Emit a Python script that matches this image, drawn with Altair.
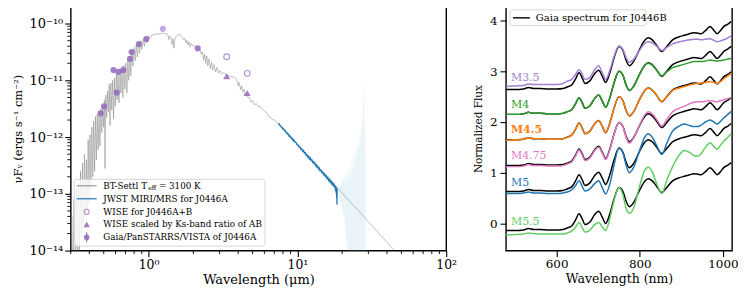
import altair as alt
import pandas as pd

FONT = "DejaVu Serif"

# ================= Left panel: SED of J0446A =================
# BT-Settl model (wavelength in micron, nuFnu in erg/s/cm2)
model_lam = [
    0.300, 0.305, 0.310, 0.316, 0.321, 0.327, 0.332, 0.338, 0.343, 0.349,
    0.354, 0.360, 0.365, 0.371, 0.376, 0.382, 0.387, 0.393, 0.398, 0.404,
    0.410, 0.416, 0.422, 0.428, 0.434, 0.440, 0.446, 0.452, 0.458, 0.465,
    0.471, 0.478, 0.485, 0.492, 0.499, 0.505, 0.510, 0.516, 0.523, 0.530,
    0.537, 0.544, 0.551, 0.558, 0.566, 0.574, 0.582, 0.590, 0.598, 0.607,
    0.615, 0.624, 0.633, 0.643, 0.652, 0.662, 0.672, 0.682, 0.693, 0.704,
    0.715, 0.726, 0.737, 0.749, 0.760, 0.772, 0.785, 0.798, 0.812, 0.826,
    0.840, 0.855, 0.870, 0.886, 0.902, 0.920, 0.938, 0.957, 0.976, 0.996,
    1.02, 1.05, 1.09, 1.13, 1.17, 1.21, 1.25, 1.29, 1.32, 1.35,
    1.37, 1.39, 1.42, 1.44, 1.46, 1.48, 1.51, 1.55, 1.60, 1.64,
    1.68, 1.72, 1.75, 1.78, 1.81, 1.84, 1.87, 1.90, 1.94, 1.98,
    2.03, 2.09, 2.15, 2.21, 2.26, 2.30, 2.34, 2.38, 2.42, 2.46,
    2.50, 2.55, 2.60, 2.65, 2.70, 2.76, 2.82, 2.88, 2.95, 3.02,
    3.10, 3.20, 3.30, 3.42, 3.55, 3.70, 3.82, 3.92, 4.00, 4.07,
    4.15, 4.22, 4.30, 4.38, 4.46, 4.55, 4.65, 4.78, 4.90, 5.02,
    5.15, 5.30, 5.45, 5.60, 5.80, 6.00, 6.20, 6.40, 6.60, 6.80,
    7.00, 7.20, 7.60, 8.00, 8.50, 9.00, 9.50, 10.0, 11.0, 12.0,
    13.0, 14.0, 15.0, 16.0, 17.0, 18.0, 19.0, 20.0, 22.0, 24.0,
    26.0, 28.0, 30.0, 33.0, 36.0, 40.0, 44.0, 48.0,
]
model_flux = [
    3e-15, 4e-14, 3e-15, 8e-14, 4e-15, 1.2e-13, 5e-15, 1.5e-13, 8e-15, 2.5e-13,
    2e-14, 3.5e-13, 3e-14, 5e-13, 4e-14, 4e-13, 5e-14, 9e-13, 7e-14, 1.1e-12,
    1.2e-13, 1.5e-12, 2e-13, 1.9e-12, 2.5e-13, 2.3e-12, 4e-13, 2.6e-12, 6e-13, 2.9e-12,
    7e-13, 3.2e-12, 1.2e-12, 3.6e-12, 1.5e-12, 4.5e-12, 2.8e-13, 5.5e-12, 2.2e-12, 6.5e-12,
    2.8e-12, 8.5e-12, 1.6e-12, 9e-12, 3e-12, 1e-11, 2.1e-12, 1.1e-11, 3.5e-12, 1.3e-11,
    4.5e-12, 1.4e-11, 4e-12, 1.6e-11, 6e-12, 1.75e-11, 5e-12, 1.85e-11, 7e-12, 2.0e-11,
    6e-12, 2.3e-11, 1e-11, 2.7e-11, 1.2e-11, 3.4e-11, 1.8e-11, 3.8e-11, 2.2e-11, 4.3e-11,
    2.6e-11, 4.8e-11, 3.0e-11, 5.0e-11, 3.5e-11, 5.3e-11, 4.0e-11, 5.7e-11, 4.6e-11, 6.0e-11,
    5.5e-11, 6.3e-11, 6.4e-11, 6.6e-11, 6.5e-11, 6.7e-11, 6.8e-11, 6.6e-11, 6.7e-11, 6.2e-11,
    5.2e-11, 6.1e-11, 5.6e-11, 4.3e-11, 5.4e-11, 3.7e-11, 5.6e-11, 6.2e-11, 6.5e-11, 6.3e-11,
    5.8e-11, 5.2e-11, 5.5e-11, 4.6e-11, 5.1e-11, 4.2e-11, 4.8e-11, 3.9e-11, 4.5e-11, 4.1e-11,
    4.0e-11, 3.8e-11, 3.7e-11, 3.5e-11, 2.9e-11, 3.2e-11, 2.3e-11, 2.9e-11, 2.0e-11, 2.7e-11,
    1.8e-11, 2.4e-11, 1.6e-11, 2.1e-11, 1.5e-11, 1.9e-11, 1.4e-11, 1.7e-11, 1.35e-11, 1.5e-11,
    1.3e-11, 1.37e-11, 1.25e-11, 1.22e-11, 1.18e-11, 1.15e-11, 1.12e-11, 1.0e-11, 8.0e-12, 9.2e-12,
    6.8e-12, 8.0e-12, 6.2e-12, 7.0e-12, 5.4e-12, 6.0e-12, 5.0e-12, 5.0e-12, 4.1e-12, 4.4e-12,
    3.7e-12, 3.9e-12, 3.4e-12, 3.5e-12, 3.1e-12, 2.9e-12, 2.7e-12, 2.35e-12, 2.25e-12, 2.05e-12,
    2.0e-12, 1.85e-12, 1.65e-12, 1.43e-12, 1.2e-12, 1.02e-12, 8.7e-13, 7.5e-13, 5.7e-13, 4.45e-13,
    3.55e-13, 2.87e-13, 2.35e-13, 1.96e-13, 1.64e-13, 1.39e-13, 1.19e-13, 1.03e-13, 7.8e-14, 6.1e-14,
    4.9e-14, 3.95e-14, 3.2e-14, 2.45e-14, 1.9e-14, 1.4e-14, 1.07e-14, 8.4e-15,
]

# JWST MIRI/MRS spectrum of J0446A
jwst_lam = [
    7.5, 7.6, 7.7, 7.8, 7.9, 8.0, 8.1, 8.2, 8.3, 8.4, 8.5, 8.6, 8.7, 8.8, 8.9, 9.0,
    9.1, 9.2, 9.3, 9.4, 9.5, 9.65, 9.8, 9.95, 10.1, 10.25, 10.4, 10.55, 10.7, 10.85,
    11.0, 11.15, 11.3, 11.45, 11.6, 11.75, 11.9, 12.05, 12.2, 12.35, 12.5, 12.65,
    12.8, 12.95, 13.1, 13.25, 13.4, 13.55, 13.7, 13.85, 14.0, 14.2, 14.4, 14.6,
    14.8, 15.0, 15.2, 15.4, 15.6, 15.8, 16.0, 16.2, 16.4, 16.6, 16.8, 17.0, 17.2,
    17.4, 17.6, 17.8, 17.9, 18.0, 18.1, 18.2, 18.3, 18.35, 18.4, 18.45, 18.5,
]
jwst_flux = [
    1.78e-12, 1.62e-12, 1.60e-12, 1.50e-12, 1.49e-12, 1.38e-12, 1.39e-12, 1.29e-12,
    1.30e-12, 1.20e-12, 1.21e-12, 1.12e-12, 1.13e-12, 1.04e-12, 1.06e-12, 9.8e-13,
    9.9e-13, 9.2e-13, 9.4e-13, 8.6e-13, 8.8e-13, 8.1e-13, 8.0e-13, 7.3e-13, 7.3e-13,
    6.7e-13, 6.8e-13, 6.1e-13, 6.2e-13, 5.6e-13, 5.8e-13, 5.2e-13, 5.3e-13, 4.8e-13,
    4.9e-13, 4.4e-13, 4.6e-13, 4.1e-13, 4.3e-13, 3.9e-13, 4.0e-13, 3.6e-13, 3.7e-13,
    3.4e-13, 3.5e-13, 3.15e-13, 3.25e-13, 2.95e-13, 3.05e-13, 2.75e-13, 2.85e-13,
    2.55e-13, 2.62e-13, 2.35e-13, 2.45e-13, 2.18e-13, 2.26e-13, 2.02e-13, 2.1e-13,
    1.86e-13, 1.95e-13, 1.72e-13, 1.80e-13, 1.6e-13, 1.7e-13, 1.5e-13, 1.58e-13,
    1.4e-13, 1.48e-13, 1.3e-13, 1.42e-13, 1.15e-13, 1.38e-13, 1.05e-13, 1.3e-13,
    8.5e-14, 1.25e-13, 6.5e-14, 1.2e-13,
]

# noisy long-wavelength channel (shown faint)
band_lam = [19.0, 19.6, 20.2, 20.8, 21.2, 21.6, 22.0, 22.4, 22.8, 23.2, 23.6, 24.0,
            24.4, 24.8, 25.2, 25.6, 26.0, 26.4, 26.8, 27.2, 27.5, 27.8, 28.1, 28.4, 28.7]
band_lo = [9e-14, 7e-14, 5e-14, 3.5e-14, 2e-14, 1.2e-14, 8e-15, 5e-15, 5e-15, 5e-15, 5e-15, 5e-15,
           5e-15, 5e-15, 5e-15, 5e-15, 5e-15, 5e-15, 5e-15, 5e-15, 5e-15, 5e-15, 5e-15, 5e-15, 5e-15]
band_hi = [1.3e-13, 1.5e-13, 1.7e-13, 2.2e-13, 1.4e-13, 2.8e-13, 1.5e-13, 3.5e-13, 1.8e-13, 4.5e-13, 2.2e-13, 6e-13,
           2.8e-13, 8e-13, 4e-13, 1.1e-12, 5e-13, 1.6e-12, 7e-13, 2.5e-12, 1.2e-12, 1.1e-11, 3e-12, 1.2e-12, 5e-13]

# photometry
phot_lam = [0.477, 0.502, 0.581, 0.611, 0.627, 0.677, 0.750, 0.769, 0.861, 0.966, 2.14]
phot_flux = [2.64e-12, 3.5e-12, 1.52e-11, 6.1e-12, 1.42e-11, 1.52e-11, 2.4e-11, 3.16e-11, 4.36e-11, 5.34e-11, 3.67e-11]
j_lam = [1.247]
j_flux = [8.1e-11]
wise_lam = [3.35, 4.60]
wise_ab_flux = [2.61e-11, 1.33e-11]
wise_scaled_flux = [1.18e-11, 6.0e-12]

# axis ticks
x_tick_vals = [1, 10, 100]
x_tick_labels = ["10⁰", "10¹", "10²"]
y_tick_vals = [1e-14, 1e-13, 1e-12, 1e-11, 1e-10]
y_tick_labels = ["10⁻¹⁴", "10⁻¹³", "10⁻¹²", "10⁻¹¹", "10⁻¹⁰"]
minor_mult = [2, 3, 4, 5, 6, 7, 8, 9]
x_minor_decades = [0.1, 1, 10]
y_minor_decades = [1e-14, 1e-13, 1e-12, 1e-11]

# ================= Right panel: Gaia spectra =================
spec_lam = [478, 500, 520, 532, 545, 560, 580, 600, 615, 625,
            636, 645, 654, 662, 668, 680, 692, 701, 710, 718,
            728, 738, 750, 760, 767, 775, 785, 800, 812, 820,
            830, 840, 853, 865, 879, 895, 907, 920, 930, 940,
            948, 958, 969, 978, 986, 995, 1002, 1012, 1020]
gaia_b = [0.00, 0.00, 0.01, 0.04, 0.02, 0.02, 0.01, 0.01, 0.02, 0.05,
          0.09, 0.20, 0.33, 0.22, 0.12, 0.17, 0.32, 0.38, 0.26, 0.14,
          0.33, 0.62, 0.85, 0.76, 0.58, 0.47, 0.55, 0.80, 0.97, 1.02,
          0.98, 0.88, 0.75, 0.85, 0.98, 1.04, 1.07, 1.10, 1.12, 1.11,
          1.10, 1.16, 1.24, 1.17, 1.10, 1.17, 1.24, 1.29, 1.34]
gaia_offsets = [2.64, 2.15, 1.65, 1.14, 0.63, -0.14]
t_m35 = [2.70, 2.71, 2.72, 2.75, 2.74, 2.74, 2.74, 2.74, 2.76, 2.80,
         2.84, 2.93, 3.03, 2.93, 2.84, 2.88, 3.04, 3.11, 2.97, 2.84,
         3.02, 3.29, 3.50, 3.42, 3.27, 3.18, 3.23, 3.42, 3.55, 3.58,
         3.56, 3.50, 3.41, 3.47, 3.54, 3.58, 3.60, 3.62, 3.63, 3.63,
         3.62, 3.63, 3.64, 3.61, 3.58, 3.60, 3.62, 3.66, 3.70]
t_m4 = [2.15, 2.15, 2.16, 2.19, 2.17, 2.17, 2.16, 2.16, 2.17, 2.20,
        2.24, 2.35, 2.48, 2.37, 2.27, 2.32, 2.47, 2.53, 2.41, 2.29,
        2.48, 2.77, 3.00, 2.91, 2.73, 2.62, 2.70, 2.95, 3.12, 3.16,
        3.12, 3.03, 2.91, 2.99, 3.07, 3.11, 3.14, 3.17, 3.19, 3.19,
        3.19, 3.20, 3.22, 3.21, 3.20, 3.21, 3.22, 3.24, 3.25]
t_m45 = [1.64, 1.65, 1.66, 1.69, 1.67, 1.67, 1.66, 1.66, 1.67, 1.70,
         1.74, 1.85, 1.98, 1.87, 1.77, 1.82, 1.97, 2.03, 1.91, 1.79,
         1.98, 2.27, 2.50, 2.41, 2.23, 2.12, 2.20, 2.45, 2.62, 2.67,
         2.63, 2.53, 2.40, 2.50, 2.62, 2.67, 2.70, 2.73, 2.75, 2.76,
         2.77, 2.78, 2.80, 2.78, 2.76, 2.80, 2.85, 2.91, 2.96]
t_m475 = [1.12, 1.12, 1.13, 1.16, 1.14, 1.14, 1.13, 1.13, 1.14, 1.17,
          1.21, 1.32, 1.45, 1.34, 1.24, 1.29, 1.44, 1.50, 1.38, 1.26,
          1.45, 1.75, 1.99, 1.89, 1.70, 1.58, 1.68, 1.95, 2.14, 2.20,
          2.16, 2.06, 1.92, 2.05, 2.20, 2.27, 2.31, 2.36, 2.39, 2.40,
          2.40, 2.41, 2.42, 2.41, 2.40, 2.42, 2.44, 2.46, 2.48]
t_m5 = [0.59, 0.59, 0.60, 0.62, 0.60, 0.60, 0.59, 0.59, 0.60, 0.62,
        0.66, 0.74, 0.84, 0.72, 0.64, 0.68, 0.79, 0.84, 0.70, 0.58,
        0.78, 1.15, 1.49, 1.38, 1.15, 1.00, 1.10, 1.45, 1.70, 1.77,
        1.70, 1.55, 1.36, 1.58, 1.82, 1.92, 1.96, 1.93, 1.91, 1.91,
        1.94, 2.00, 2.04, 2.00, 1.96, 2.02, 2.08, 2.15, 2.21]
t_m55 = [-0.23, -0.22, -0.21, -0.19, -0.20, -0.21, -0.21, -0.21, -0.21, -0.19,
         -0.15, -0.08, 0.02, -0.09, -0.17, -0.13, -0.02, 0.02, -0.07, -0.14,
         0.10, 0.45, 0.71, 0.55, 0.30, 0.20, 0.30, 0.75, 1.05, 1.11,
         1.02, 0.80, 0.59, 0.85, 1.12, 1.35, 1.44, 1.40, 1.34, 1.33,
         1.38, 1.50, 1.59, 1.52, 1.46, 1.55, 1.62, 1.70, 1.77]
templates = [t_m35, t_m4, t_m45, t_m475, t_m5, t_m55]
spt_names = ["M3.5", "M4", "M4.5", "M4.75", "M5", "M5.5"]
spt_colors = ["#a27fd4", "#2ca02c", "#ff7f0e", "#e377c2", "#1f77b4", "#62cd62"]
label_lam = [490, 490, 490, 490, 490, 490]
label_val = [2.87, 2.33, 1.84, 1.33, 0.79, 0.03]
label_bold = [False, False, True, False, False, False]

# ---------------------------------------------------------------
assert len(model_lam) == len(model_flux)
assert len(jwst_lam) == len(jwst_flux)
assert len(band_lam) == len(band_lo) == len(band_hi)
for t in templates + [gaia_b]:
    assert len(t) == len(spec_lam)


def label_expr(vals, labels):
    expr = "''"
    for v, l in zip(vals, labels):
        expr = f"abs(datum.value / {v!r} - 1) < 0.01 ? '{l}' : ({expr})"
    return expr


LW, LH = 377, 245
RW, RH = 227, 245

xs = alt.Scale(type="log", domain=[0.3, 100], nice=False)
ys = alt.Scale(type="log", domain=[1e-14, 2e-10], nice=False)
ax_x = alt.Axis(values=x_tick_vals, labelExpr=label_expr(x_tick_vals, x_tick_labels),
                title="Wavelength (μm)", labelFlush=False, labelPadding=2, titlePadding=3,
                labelFontSize=12.5, titleFontSize=13)
ax_y = alt.Axis(values=y_tick_vals, labelExpr=label_expr(y_tick_vals, y_tick_labels),
                title="νFᵥ (ergs s⁻¹ cm⁻²)", labelPadding=2, titlePadding=6,
                labelFontSize=13, titleFontSize=11.5)


def X(field):
    return alt.X(f"{field}:Q", scale=xs, axis=ax_x)


def Y(field):
    return alt.Y(f"{field}:Q", scale=ys, axis=ax_y)


df_model = pd.DataFrame({"lam": model_lam, "flux": model_flux})
df_jwst = pd.DataFrame({"lam": jwst_lam, "flux": jwst_flux})
df_band = pd.DataFrame({"lam": band_lam, "lo": band_lo, "hi": band_hi})
df_phot = pd.DataFrame({"lam": phot_lam, "flux": phot_flux})
df_j = pd.DataFrame({"lam": j_lam, "flux": j_flux})
df_wise = pd.DataFrame({"lam": wise_lam, "ab": wise_ab_flux, "sc": wise_scaled_flux})
df_xminor = pd.DataFrame({"v": [m * d for d in x_minor_decades for m in minor_mult
                                if 0.3 <= m * d <= 100]})
df_yminor = pd.DataFrame({"v": [m * d for d in y_minor_decades for m in minor_mult]})
one = pd.DataFrame({"a": [0]})

PURPLE = "#9467bd"

band = alt.Chart(df_band).mark_area(color="#add8e6", opacity=0.28, clip=True).encode(
    x=X("lam"), y=Y("lo"), y2="hi")
model = alt.Chart(df_model).mark_line(color="#7a7a7a", strokeWidth=0.6, opacity=0.8,
                                      clip=True).encode(x=X("lam"), y=Y("flux"))
jwst = alt.Chart(df_jwst).mark_line(color="#1f77b4", strokeWidth=1.3, clip=True).encode(
    x=X("lam"), y=Y("flux"))
phot = alt.Chart(df_phot).mark_point(filled=True, shape="circle", size=38, color=PURPLE,
                                     opacity=0.85).encode(x=X("lam"), y=Y("flux"))
jpt = alt.Chart(df_j).mark_point(filled=True, shape="circle", size=38, color="#c6a9e4",
                                 opacity=1).encode(x=X("lam"), y=Y("flux"))
wise_ab = alt.Chart(df_wise).mark_point(filled=False, shape="circle", size=34, color=PURPLE,
                                        strokeWidth=1.1).encode(x=X("lam"), y=Y("ab"))
wise_sc = alt.Chart(df_wise).mark_point(filled=True, shape="triangle-up", size=50, color=PURPLE,
                                        opacity=0.85).encode(x=X("lam"), y=Y("sc"))
xminor = alt.Chart(df_xminor).mark_rule(color="black", strokeWidth=0.9).encode(
    x=X("v"), y=alt.value(LH), y2=alt.value(LH + 3.5))
yminor = alt.Chart(df_yminor).mark_rule(color="black", strokeWidth=0.9).encode(
    y=Y("v"), x=alt.value(0), x2=alt.value(-3.5))

# legend (left)
LEG_FS = 8.8
leg_rows = [180, 193, 206, 218.7, 231.7]
leg_box = alt.Chart(one).mark_rect(fill="white", fillOpacity=0.8, stroke="#cccccc",
                                   strokeWidth=0.8, cornerRadius=2).encode(
    x=alt.value(3.5), x2=alt.value(195), y=alt.value(173.5), y2=alt.value(240.5))
leg_items = [leg_box]
leg_items.append(alt.Chart(one).mark_rule(color="#7a7a7a", strokeWidth=0.9).encode(
    x=alt.value(6), x2=alt.value(26), y=alt.value(leg_rows[0])))
leg_items.append(alt.Chart(one).mark_rule(color="#1f77b4", strokeWidth=1.2).encode(
    x=alt.value(6), x2=alt.value(26), y=alt.value(leg_rows[1])))
leg_items.append(alt.Chart(one).mark_point(filled=False, shape="circle", size=26, color=PURPLE,
                                           strokeWidth=1.1).encode(
    x=alt.value(16), y=alt.value(leg_rows[2])))
leg_items.append(alt.Chart(one).mark_point(filled=True, shape="triangle-up", size=42, color=PURPLE,
                                           opacity=0.85).encode(
    x=alt.value(16), y=alt.value(leg_rows[3])))
leg_items.append(alt.Chart(one).mark_rule(color=PURPLE, strokeWidth=1.2, opacity=0.85).encode(
    x=alt.value(16), y=alt.value(leg_rows[4] - 5), y2=alt.value(leg_rows[4] + 5)))
leg_items.append(alt.Chart(one).mark_point(filled=True, shape="circle", size=32, color=PURPLE,
                                           opacity=0.85).encode(
    x=alt.value(16), y=alt.value(leg_rows[4])))
leg_texts = ["", "JWST MIRI/MRS for J0446A", "WISE for J0446A+B",
             "WISE scaled by Ks-band ratio of AB", "Gaia/PanSTARRS/VISTA of J0446A"]
for yy, tt in zip(leg_rows[1:], leg_texts[1:]):
    leg_items.append(alt.Chart(one).mark_text(align="left", baseline="middle", font=FONT,
                                              fontSize=LEG_FS, color="black").encode(
        x=alt.value(32.7), y=alt.value(yy), text=alt.value(tt)))
leg_items.append(alt.Chart(one).mark_text(align="left", baseline="middle", font=FONT,
                                          fontSize=LEG_FS, color="black").encode(
    x=alt.value(32.7), y=alt.value(leg_rows[0]), text=alt.value("BT-Settl T")))
leg_items.append(alt.Chart(one).mark_text(align="left", baseline="middle", font=FONT,
                                          fontSize=6.2, color="black").encode(
    x=alt.value(77.8), y=alt.value(leg_rows[0] + 2.6), text=alt.value("eff")))
leg_items.append(alt.Chart(one).mark_text(align="left", baseline="middle", font=FONT,
                                          fontSize=LEG_FS, color="black").encode(
    x=alt.value(88.5), y=alt.value(leg_rows[0]), text=alt.value("= 3100 K")))

left = alt.layer(band, model, jwst, phot, jpt, wise_ab, wise_sc, xminor, yminor,
                 *leg_items).properties(width=LW, height=LH)

# ---------------- right panel ----------------
rows_black = []
rows_t = []
for name, off, tmpl in zip(spt_names, gaia_offsets, templates):
    for lam, b, t in zip(spec_lam, gaia_b, tmpl):
        rows_black.append({"series": name, "lam": lam, "flux": b + off})
        rows_t.append({"series": name, "lam": lam, "flux": t})
df_black = pd.DataFrame(rows_black)
df_t = pd.DataFrame(rows_t)
df_lab = pd.DataFrame({"series": spt_names, "lam": label_lam, "val": label_val, "bold": label_bold})

rxs = alt.Scale(domain=[478, 1022], nice=False, zero=False)
rys = alt.Scale(domain=[-0.535, 4.275], nice=False, zero=False)
rax_x = alt.Axis(values=[600, 800, 1000], format="d", title="Wavelength (nm)", labelFlush=False,
                 labelPadding=2, titlePadding=3, labelFontSize=12, titleFontSize=12.5)
rax_y = alt.Axis(values=[0, 1, 2, 3, 4], format="d", title="Normalized Flux", labelPadding=3,
                 titlePadding=6, labelFontSize=12, titleFontSize=10.5)
cscale = alt.Scale(domain=spt_names, range=spt_colors)

blk = alt.Chart(df_black).mark_line(color="black", strokeWidth=1.5, interpolate="monotone",
                                    clip=True).encode(
    x=alt.X("lam:Q", scale=rxs, axis=rax_x), y=alt.Y("flux:Q", scale=rys, axis=rax_y),
    detail="series:N")
tl = alt.Chart(df_t).mark_line(strokeWidth=1.5, interpolate="monotone", clip=True).encode(
    x=alt.X("lam:Q", scale=rxs, axis=rax_x), y=alt.Y("flux:Q", scale=rys, axis=rax_y),
    color=alt.Color("series:N", scale=cscale, legend=None))
LAB_FS = 11
lab_n = alt.Chart(df_lab).transform_filter("!datum.bold").mark_text(
    align="left", baseline="middle", font=FONT, fontSize=LAB_FS).encode(
    x=alt.X("lam:Q", scale=rxs, axis=rax_x), y=alt.Y("val:Q", scale=rys, axis=rax_y),
    text="series:N", color=alt.Color("series:N", scale=cscale, legend=None))
lab_b = alt.Chart(df_lab).transform_filter("datum.bold").mark_text(
    align="left", baseline="middle", font=FONT, fontSize=LAB_FS, fontWeight="bold").encode(
    x=alt.X("lam:Q", scale=rxs, axis=rax_x), y=alt.Y("val:Q", scale=rys, axis=rax_y),
    text="series:N", color=alt.Color("series:N", scale=cscale, legend=None))
rleg_box = alt.Chart(one).mark_rect(fill="white", fillOpacity=0.8, stroke="#cccccc",
                                    strokeWidth=0.8, cornerRadius=2).encode(
    x=alt.value(4), x2=alt.value(140.7), y=alt.value(3.3), y2=alt.value(19))
rleg_line = alt.Chart(one).mark_rule(color="black", strokeWidth=1.4).encode(
    x=alt.value(7), x2=alt.value(24), y=alt.value(11.3))
rleg_text = alt.Chart(one).mark_text(align="left", baseline="middle", font=FONT, fontSize=10,
                                     color="black").encode(
    x=alt.value(30), y=alt.value(11.3), text=alt.value("Gaia spectrum for J0446B"))

right = alt.layer(blk, tl, lab_n, lab_b, rleg_box, rleg_line, rleg_text).properties(
    width=RW, height=RH)

chart = alt.hconcat(left, right, spacing=14).properties(
    padding={"left": 3, "top": -3, "right": 0, "bottom": 0}
).configure_axis(
    labelFont=FONT, titleFont=FONT,
    labelColor="black", titleColor="black", tickColor="black", tickSize=6, tickWidth=1.1,
    domain=False, grid=False, titleFontWeight="normal"
).configure_view(stroke="black", strokeWidth=1.4)

chart.save("out.html", embed_options={"renderer": "svg", "actions": False})
